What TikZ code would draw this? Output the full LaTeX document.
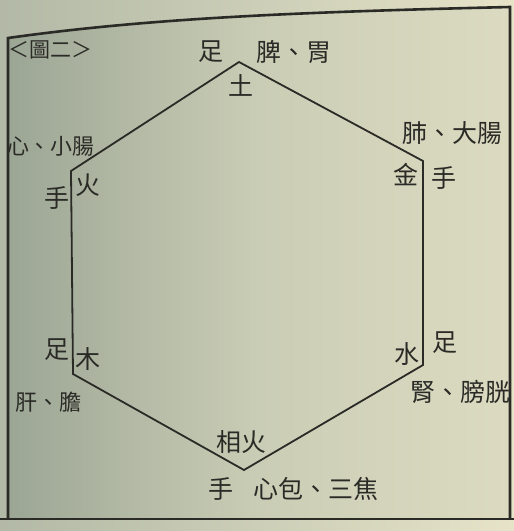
\documentclass[tikz,border=0pt]{standalone}
\usepackage{fontspec}
\newfontfamily\cjk{Noto Sans CJK TC}
\definecolor{ink}{HTML}{2A2A26}
\definecolor{pageL}{HTML}{B2B9A6}
\definecolor{pageR}{HTML}{E6E3C8}
\definecolor{boxL}{HTML}{9CA695}
\definecolor{boxM}{HTML}{CACDB5}
\definecolor{boxR}{HTML}{DCDBC1}
\begin{document}
\begin{tikzpicture}[x=1pt,y=-1pt,
  lbl/.style={font=\cjk\fontsize{25}{25}\selectfont, inner sep=0pt, text=ink},
  tight/.style={font=\cjk\fontsize{22}{22}\selectfont, inner sep=0pt, text=ink},
  small/.style={font=\cjk\fontsize{21}{21}\selectfont, inner sep=0pt, text=ink},
  hexedge/.style={draw=ink, line width=1.8pt, line join=miter},
  frameline/.style={draw=ink, line width=2.6pt}]
\useasboundingbox (0,0) rectangle (514,531);
% page background
\fill[left color=pageL, right color=pageR] (0,0) rectangle (514,531);
% framed panel
\fill[left color=boxL, right color=boxR, middle color=boxM]
  (8,38) .. controls (150,18) and (300,12) .. (510,7) -- (510,519) -- (8,519) -- cycle;
\draw[frameline] (8,519) -- (8,38) .. controls (150,18) and (300,12) .. (510,7) -- (510,519);
\draw[frameline] (0,519) -- (514,519);
% hexagon vertices
\coordinate (tu) at (239,62);
\coordinate (ul) at (71,171);
\coordinate (ll) at (73,374);
\coordinate (bo) at (244,470);
\coordinate (lr) at (423,365);
\coordinate (ur) at (423,161);
\draw[hexedge] (tu) -- (ur) -- (lr) -- (bo) -- (ll) -- (ul) -- cycle;
% labels
\node[small] (title) at (51,50) {＜圖二＞};
\node[lbl] (tzu) at (211,52) {足};
\node[lbl] (tpi) at (294,52) {脾、胃};
\node[lbl] (earth) at (241,85) {土};
\node[tight] (heart) at (51,146) {心、小腸};
\node[lbl] (fire) at (88,185) {火};
\node[lbl] (ulhand) at (57,198) {手};
\node[lbl] (lung) at (452,133) {肺、大腸};
\node[lbl] (metal) at (406,175) {金};
\node[lbl] (urhand) at (444,178) {手};
\node[lbl] (llfoot) at (57,350) {足};
\node[lbl] (wood) at (88,359) {木};
\node[tight] (liver) at (49,402) {肝、膽};
\node[lbl] (water) at (407,354) {水};
\node[lbl] (lrfoot) at (445,343) {足};
\node[lbl] (kidney) at (460,392) {腎、膀胱};
\node[lbl] (minfire) at (241,442) {相火};
\node[lbl] (bhand) at (221,489) {手};
\node[lbl] (peri) at (316,489) {心包、三焦};
\end{tikzpicture}
\end{document}
